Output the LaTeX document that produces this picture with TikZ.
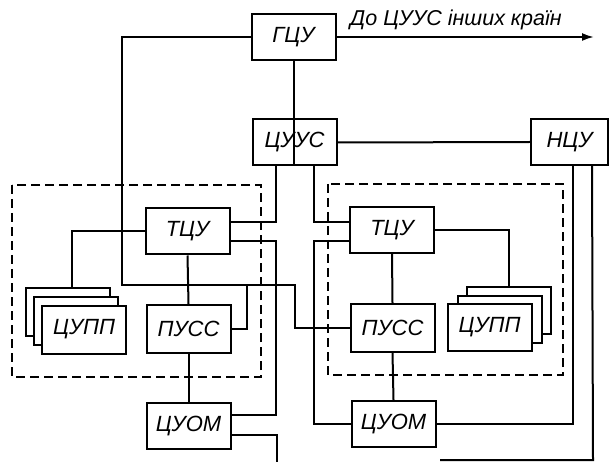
\documentclass[tikz,border=0pt]{standalone}
\usepackage{fontspec}
\setmainfont{Liberation Sans}
\usetikzlibrary{arrows.meta}
\begin{document}
\begin{tikzpicture}[x=1pt,y=-1pt,
  box/.style={draw,line width=2pt,fill=white,minimum width=84pt,minimum height=46pt,inner sep=0pt,font=\fontsize{22}{26}\selectfont\itshape},
  conn/.style={line width=2pt},
  dashbox/.style={line width=1.6pt,dash pattern=on 9pt off 5pt}]
\useasboundingbox (0,0) rectangle (610,462);
% dashed groups
\draw[dashbox] (12,185) rectangle (261,377);
\draw[dashbox] (328,184) rectangle (563,375);
% main nodes
\node[box] (G) at (293.5,37) {ГЦУ};
\node[box] (C) at (294.5,142.5) {ЦУУС};
\node[box,minimum width=77pt] (N) at (569.5,142) {НЦУ};
\node[box] (TL) at (187.5,231.5) {ТЦУ};
\node[box,minimum height=48pt] (PL) at (188.5,329) {ПУСС};
\node[box] (OL) at (188.5,426) {ЦУОМ};
\node[box] (TR) at (392,230) {ТЦУ};
\node[box,minimum height=48pt] (PR) at (392.5,328) {ПУСС};
\node[box] (OR) at (393.5,424) {ЦУОМ};
% stacks
\node[box,minimum height=48pt] (SLb) at (67.5,312) {};
\node[box,minimum height=48pt] (SLm) at (75.5,320.5) {};
\node[box,minimum height=48pt] (SL) at (84,329.5) {ЦУПП};
\node[box,minimum height=47pt] (SRb) at (508.5,310.5) {};
\node[box,minimum height=47pt] (SRm) at (499.5,319) {};
\node[box,minimum height=47pt] (SR) at (489.5,327.5) {ЦУПП};
% label
\node[font=\fontsize{21.5}{25}\selectfont\itshape,anchor=south west,inner sep=0pt] (lab) at (350,30) {До ЦУУС інших країн};
\coordinate (arr) at (594,37);
\draw[conn,-{Latex[length=12pt,width=8pt]}] (G.east) -- (arr);
% connectors
\coordinate (a1) at (122,285);
\coordinate (a2) at (295,328);
\coordinate (a3) at (247,285);
\draw[conn] (G.west) -| (a1) -| (a2) -- (PR.west);
\draw[conn] (PL.east) -| (a3);
\draw[conn] (G.south) -- (C.south -| G.south);
\draw[conn] (C.east) -- (N.west);
\draw[conn] ([xshift=24pt]C.south west) |- ([yshift=9.5pt]TL.east);
\draw[conn] ([xshift=-24pt]C.south east) |- ([yshift=8pt]TR.west);
\coordinate (b1) at (276,241);
\draw[conn] ([yshift=-9.5pt]TL.east) -- (b1) |- ([yshift=11pt]OL.east);
\coordinate (b2) at (277,462);
\draw[conn] ([yshift=-9pt]OL.east) -| (b2);
\coordinate (b3) at (72,288);
\draw[conn] (TL.west) -| (b3);
\draw[conn] (TL.south) -- (PL.north);
\draw[conn] (PL.south) -- (OL.north);
\coordinate (c1) at (314,241);
\draw[conn] ([yshift=-11pt]TR.west) -- (c1) |- (OR.west);
\draw[conn] (TR.east) -| (SRb.north);
\draw[conn] (TR.south) -- (PR.north);
\draw[conn] (PR.south) -- (OR.north);
\draw[conn] (OR.east) -| ([xshift=43pt]N.south west);
\coordinate (d1) at (593,460);
\coordinate (d2) at (440,460);
\draw[conn] ([xshift=62pt]N.south west) -- (d1) -- (d2);
\end{tikzpicture}
\end{document}
